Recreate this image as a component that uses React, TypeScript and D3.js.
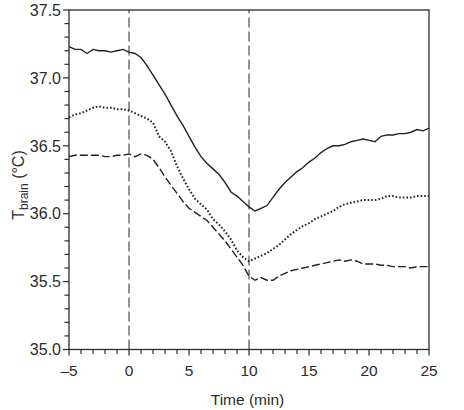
import React from "react";
import * as d3 from "d3";

// Sample times (min) relative to the start of cooling
const times: number[] = [
  -5, -4.5, -4, -3.5, -3, -2.5, -2, -1.5, -1, -0.5,
  0, 0.5, 1, 1.5, 2, 2.5, 3, 3.5, 4, 4.5,
  5, 5.5, 6, 6.5, 7, 7.5, 8, 8.5, 9, 9.5,
  10, 10.5, 11, 11.5, 12, 12.5, 13, 13.5, 14, 14.5,
  15, 15.5, 16, 16.5, 17, 17.5, 18, 18.5, 19, 19.5,
  20, 20.5, 21, 21.5, 22, 22.5, 23, 23.5, 24, 24.5, 25,
];

// Brain temperature (°C), three recordings
const solidSeries: number[] = [
  37.23, 37.21, 37.21, 37.18, 37.21, 37.2, 37.2, 37.19, 37.2, 37.21,
  37.19, 37.18, 37.15, 37.09, 37.02, 36.95, 36.88, 36.8, 36.72, 36.65,
  36.57, 36.49, 36.42, 36.37, 36.33, 36.29, 36.23, 36.16, 36.13, 36.09,
  36.05, 36.02, 36.04, 36.06, 36.12, 36.18, 36.23, 36.27, 36.31, 36.34,
  36.38, 36.41, 36.45, 36.48, 36.5, 36.5, 36.51, 36.53, 36.54, 36.55,
  36.54, 36.53, 36.57, 36.58, 36.58, 36.59, 36.59, 36.6, 36.62, 36.61, 36.63,
];

const dottedSeries: number[] = [
  36.71, 36.73, 36.74, 36.76, 36.78, 36.79, 36.78, 36.78, 36.77, 36.77,
  36.76, 36.74, 36.72, 36.7, 36.67, 36.57, 36.53, 36.46, 36.35, 36.26,
  36.18, 36.11, 36.07, 36.03, 35.96, 35.92, 35.87, 35.81, 35.73, 35.68,
  35.65, 35.67, 35.69, 35.71, 35.74, 35.77, 35.81, 35.85, 35.88, 35.91,
  35.93, 35.96, 35.98, 36.0, 36.02, 36.05, 36.07, 36.08, 36.09, 36.1,
  36.1, 36.1, 36.11, 36.13, 36.13, 36.12, 36.12, 36.12, 36.13, 36.13, 36.13,
];

const dashedSeries: number[] = [
  36.42, 36.43, 36.43, 36.43, 36.43, 36.43, 36.42, 36.42, 36.43, 36.43,
  36.44, 36.42, 36.44, 36.43, 36.4, 36.34, 36.27, 36.21, 36.15, 36.09,
  36.04, 36.01, 35.98, 35.95, 35.9, 35.85, 35.8, 35.74, 35.68, 35.62,
  35.54, 35.51, 35.53, 35.51, 35.51, 35.54, 35.56, 35.58, 35.59, 35.6,
  35.61, 35.62, 35.63, 35.64, 35.65, 35.66, 35.65, 35.66, 35.65, 35.63,
  35.63, 35.63, 35.62, 35.62, 35.61, 35.61, 35.61, 35.6, 35.61, 35.61, 35.61,
];

// Cooling period markers (min)
const markers: number[] = [0, 10];

const xTickLabels: number[] = [-5, 0, 5, 10, 15, 20, 25];
const yTickLabels: number[] = [35.0, 35.5, 36.0, 36.5, 37.0, 37.5];

const W = 464;
const H = 410;
const margin = { left: 69, right: 35, top: 10, bottom: 60.5 };
const FONT = "'Liberation Sans', Arial, Helvetica, sans-serif";
const INK = "#2b2b2b";

export default function App() {
  const x = d3
    .scaleLinear()
    .domain([-5, 25])
    .range([margin.left, W - margin.right]);
  const y = d3
    .scaleLinear()
    .domain([35, 37.5])
    .range([H - margin.bottom, margin.top]);

  const line = d3
    .line<number>()
    .x((_, i) => x(times[i]))
    .y((v) => y(v));

  const xMinor = d3.range(-5, 25.001, 1);
  const yMinor = d3.range(0, 26).map((i) => 35 + i * 0.1);

  const x0 = x(-5);
  const x1 = x(25);
  const y0 = y(35);
  const y1 = y(37.5);

  return (
    <svg
      width={W}
      height={H}
      style={{ position: "absolute", left: 0, top: 0, background: "#fff" }}
    >
      {/* cooling markers */}
      {markers.map((m) => (
        <line
          key={"m" + m}
          x1={x(m)}
          x2={x(m)}
          y1={y0}
          y2={y1}
          stroke={INK}
          strokeWidth={1}
          strokeDasharray="10 4"
        />
      ))}

      {/* temperature traces */}
      <path d={line(solidSeries) ?? ""} fill="none" stroke="#222" strokeWidth={1.4} />
      <path
        d={line(dottedSeries) ?? ""}
        fill="none"
        stroke="#222"
        strokeWidth={2}
        strokeDasharray="1.6 2"
      />
      <path
        d={line(dashedSeries) ?? ""}
        fill="none"
        stroke="#222"
        strokeWidth={1.4}
        strokeDasharray="8 3"
      />

      {/* frame */}
      <rect
        x={x0}
        y={y1}
        width={x1 - x0}
        height={y0 - y1}
        fill="none"
        stroke={INK}
        strokeWidth={1.3}
      />

      {/* x ticks */}
      {xMinor.map((t) => {
        const major = Math.abs(t % 5) < 1e-6;
        return (
          <line
            key={"xt" + t}
            x1={x(t)}
            x2={x(t)}
            y1={y0}
            y2={y0 + (major ? 6 : 4.5)}
            stroke={INK}
            strokeWidth={1.2}
          />
        );
      })}
      {xTickLabels.map((t) => (
        <text
          key={"xl" + t}
          x={x(t)}
          y={y0 + 26.5}
          textAnchor="middle"
          fontFamily={FONT}
          fontSize={15.5}
          fill={INK}
        >
          {t < 0 ? "\u2013" + Math.abs(t) : String(t)}
        </text>
      ))}

      {/* y ticks */}
      {yMinor.map((v, i) => {
        const major = i % 5 === 0;
        return (
          <line
            key={"yt" + i}
            x1={x0}
            x2={x0 - (major ? 6 : 4.5)}
            y1={y(v)}
            y2={y(v)}
            stroke={INK}
            strokeWidth={1.2}
          />
        );
      })}
      {yTickLabels.map((v) => (
        <text
          key={"yl" + v}
          x={x0 - 8}
          y={y(v)}
          dy="0.36em"
          textAnchor="end"
          fontFamily={FONT}
          fontSize={16}
          fill={INK}
        >
          {v.toFixed(1)}
        </text>
      ))}

      {/* axis titles */}
      <text
        x={247.5}
        y={405}
        textAnchor="middle"
        fontFamily={FONT}
        fontSize={15.5}
        fill={INK}
      >
        Time (min)
      </text>
      <text
        transform="translate(24, 185) rotate(-90)"
        textAnchor="middle"
        fontFamily={FONT}
        fontSize={16}
        fill={INK}
      >
        T
        <tspan fontSize={12} dy={4}>
          brain
        </tspan>
        <tspan dy={-4}> (°C)</tspan>
      </text>
    </svg>
  );
}
